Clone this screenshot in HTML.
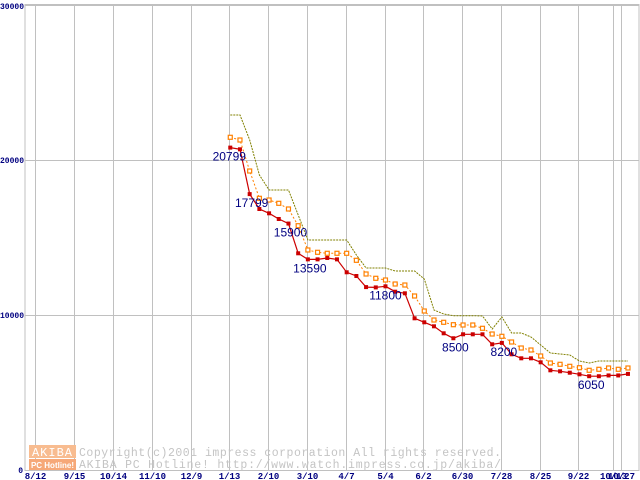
<!DOCTYPE html>
<html><head><meta charset="utf-8"><style>
body{margin:0;background:#fff;width:640px;height:480px;overflow:hidden}
svg{display:block}
</style></head><body>
<svg id="chart" width="640" height="480" xmlns="http://www.w3.org/2000/svg" font-family="Liberation Sans, sans-serif">
<g id="grid"></g>
<g id="wm">
<rect x="29" y="445" width="47" height="13" fill="#f8bc90"/>
<text x="52.5" y="456" font-size="12" fill="#fff" text-anchor="middle" font-family="Liberation Mono, monospace" letter-spacing="1">AKIBA</text>
<rect x="29" y="459" width="47" height="11" fill="#f6a878"/>
<text x="52.5" y="468" font-size="8" fill="#fff" text-anchor="middle" font-weight="bold">PC Hotline!</text>
<text x="79" y="456" font-size="11.5" fill="#c4c4c4" font-family="Liberation Mono, monospace" textLength="422">Copyright(c)2001 impress corporation All rights reserved.</text>
<text x="79" y="468" font-size="11.5" fill="#c4c4c4" font-family="Liberation Mono, monospace" textLength="422">AKIBA PC Hotline!  http://www.watch.impress.co.jp/akiba/</text>
</g>
<g id="series"></g>
<g id="labels"></g>
</svg>
<script>
const xTickLabels=["8/12","9/15","10/14","11/10","12/9","1/13","2/10","3/10","4/7","5/4","6/2","6/30","7/28","8/25","9/22","10/13","10/27"];
const xTickWeeks=[0,4,8,12,16,20,24,28,32,36,40,44,48,52,56,59.57,60.43];
const yTicks=[0,10000,20000,30000];
const minPrice=[20799,20690,17799,16839,16561,16194,15900,13981,13590,13590,13677,13590,12755,12516,11800,11780,11850,11503,11400,9787,9529,9271,8819,8500,8755,8755,8755,8110,8200,7465,7206,7206,6948,6432,6368,6277,6174,6050,6050,6100,6100,6200];
const avgPrice=[21465,21290,19290,17529,17419,17206,16839,15761,14194,14045,13981,13981,13981,13529,12645,12368,12258,12000,11935,11226,10258,9677,9529,9374,9355,9355,9142,8774,8626,8258,7871,7742,7355,6903,6819,6690,6600,6432,6497,6581,6497,6581];
const maxPrice=[22903,22903,21290,19032,18065,18065,18065,16452,14839,14839,14839,14839,14839,13871,13032,13032,13032,12839,12839,12839,12323,10323,10065,9955,9955,9955,9935,9097,9871,8839,8839,8581,8065,7548,7484,7419,7032,6903,7032,7032,7032,7032];
const labelIdx=[0,2,6,8,16,23,28,37];
const labelVals=["20799","17799","15900","13590","11800","8500","8200","6050"];
const firstWeek=20.1;
const NS="http://www.w3.org/2000/svg";
function X(w){return 35.3+w*9.7;}
function Y(v){return 470-v*0.0155;}
function mk(tag,attrs,parent){const e=document.createElementNS(NS,tag);for(const k in attrs)e.setAttribute(k,attrs[k]);parent.appendChild(e);return e;}
const grid=document.getElementById('grid');
mk('rect',{x:25,y:4.5,width:614,height:466,fill:'none',stroke:'#c0c0c0'},grid);
yTicks.forEach(v=>{
  const l=mk('line',{x1:25,x2:639,y1:Y(v)+0.5,y2:Y(v)+0.5,stroke:'#c0c0c0'},grid);
  
  
  const t=mk('text',{x:v===0?23:24,y:Y(v)+(v===30000?4:3),'font-size':8,fill:'#000080','text-anchor':'end','font-family':'Liberation Mono, monospace','font-weight':'bold'},grid);
  t.textContent=String(v);
  
  
});
xTickWeeks.forEach((w,i)=>{
  const x=Math.round(X(w))+0.5;
  const l=mk('line',{x1:x,x2:x,y1:4,y2:470,stroke:'#c0c0c0'},grid);
  
  
  const t=mk('text',{x:x,y:479,'font-size':9,fill:'#000080','text-anchor':'middle','font-family':'Liberation Mono, monospace','font-weight':'bold'},grid);
  t.textContent=xTickLabels[i];
  
  
});
const ser=document.getElementById('series');
function pts(arr){return arr.map((v,i)=>X(firstWeek+i).toFixed(1)+','+Y(v).toFixed(1)).join(' ');}
const pmax=mk('polyline',{points:pts(maxPrice),fill:'none',stroke:'#808000','stroke-width':1,'stroke-dasharray':'2,1'},ser);


const pavg=mk('polyline',{points:pts(avgPrice),fill:'none',stroke:'#ff8000','stroke-width':1,'stroke-dasharray':'2,2'},ser);


avgPrice.forEach((v,i)=>{
  const r=mk('rect',{x:X(firstWeek+i)-2,y:Y(v)-2,width:4,height:4,fill:'#fff',stroke:'#ff8000','stroke-width':1.2},ser);
  
  
});
const pmin=mk('polyline',{points:pts(minPrice),fill:'none',stroke:'#cc0000','stroke-width':1.2},ser);


minPrice.forEach((v,i)=>{
  const r=mk('rect',{x:X(firstWeek+i)-2,y:Y(v)-2,width:4,height:4,fill:'#cc0000'},ser);
  
  
});
const lab=document.getElementById('labels');
labelIdx.forEach((idx,k)=>{
  const t=mk('text',{x:X(firstWeek+idx)+(k===0?-1:k===4?0:2),y:Y(minPrice[idx])+13,'font-size':12,fill:'#000080','text-anchor':'middle'},lab);
  t.textContent=labelVals[k];
  
  
});
</script>
</body></html>
